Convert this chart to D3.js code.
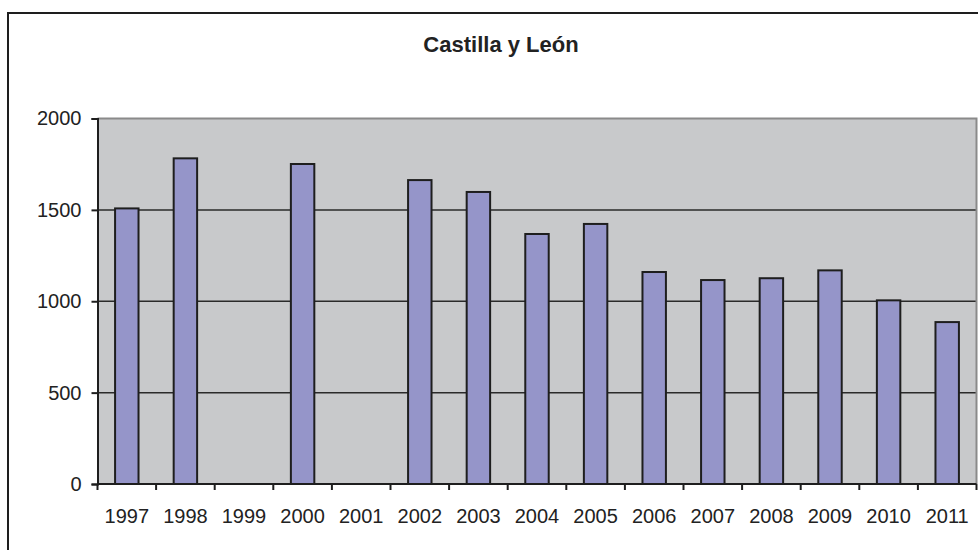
<!DOCTYPE html>
<html>
<head>
<meta charset="utf-8">
<script src="https://cdn.jsdelivr.net/npm/d3@7"></script>
<style>
  html, body { margin: 0; padding: 0; background: #fff; }
  svg { display: block; font-family: "Liberation Sans", Arial, sans-serif; }
</style>
</head>
<body>
<svg id="chart" width="978" height="550"></svg>
<script>
// Yearly totals for Castilla y León (null = no data for that year)
const years = ["1997","1998","1999","2000","2001","2002","2003","2004","2005","2006","2007","2008","2009","2010","2011"];
const values = [1508, 1782, null, 1751, null, 1663, 1598, 1368, 1423, 1160, 1116, 1126, 1169, 1005, 886];
const yTicks = [0, 500, 1000, 1500, 2000];
const title = "Castilla y León";

const svg = d3.select("#chart");
const plot = { left: 97.5, right: 976.5, top: 118.5, bottom: 484 };

// Outer chart frame
svg.append("path")
  .attr("d", `M8,560 L8,13 L990,13`)
  .attr("fill", "none").attr("stroke", "#1e1e1e").attr("stroke-width", 2);

svg.append("text")
  .attr("x", 501).attr("y", 52)
  .attr("text-anchor", "middle")
  .attr("font-size", 22).attr("font-weight", "bold")
  .attr("fill", "#222")
  .text(title);

const x = d3.scaleBand().domain(years).range([plot.left, plot.right]).paddingInner(0.6).paddingOuter(0.3);
const xCat = d3.scaleBand().domain(years).range([plot.left, plot.right]);
const y = d3.scaleLinear().domain([0, 2000]).range([plot.bottom, plot.top]);

// Plot area background
svg.append("rect")
  .attr("x", plot.left).attr("y", plot.top)
  .attr("width", plot.right - plot.left).attr("height", plot.bottom - plot.top)
  .attr("fill", "#c8c9cb");

// Horizontal gridlines
svg.append("g").selectAll("line")
  .data(yTicks.filter(t => t > 0 && t < 2000))
  .join("line")
  .attr("x1", plot.left).attr("x2", plot.right)
  .attr("y1", d => y(d)).attr("y2", d => y(d))
  .attr("stroke", "#2a2a2a").attr("stroke-width", 1.5);

// Top and right edges of the plot area
svg.append("path")
  .attr("d", `M${plot.left},${plot.top} L${plot.right},${plot.top} L${plot.right},${plot.bottom}`)
  .attr("fill", "none").attr("stroke", "#8a8a8a").attr("stroke-width", 2);

// Bars
svg.append("g").selectAll("rect")
  .data(years.map((yr, i) => ({ yr, v: values[i] })).filter(d => d.v != null))
  .join("rect")
  .attr("x", d => x(d.yr))
  .attr("width", x.bandwidth())
  .attr("y", d => y(d.v))
  .attr("height", d => y(0) - y(d.v))
  .attr("fill", "#9595c9")
  .attr("stroke", "#1e1e1e").attr("stroke-width", 2);

// Y axis
const yAxis = svg.append("g")
  .attr("transform", `translate(${plot.left},0)`)
  .call(d3.axisLeft(y).tickValues(yTicks).tickSize(6).tickPadding(10).tickFormat(d3.format("d")));
yAxis.select(".domain").attr("stroke", "#1e1e1e").attr("stroke-width", 2);
yAxis.selectAll(".tick line").attr("stroke", "#1e1e1e").attr("stroke-width", 2);
yAxis.selectAll(".tick text").attr("font-size", 20).attr("fill", "#222")
  .attr("font-family", "Liberation Sans, Arial, sans-serif");

// X axis: ticks sit on category boundaries, labels centred in categories
const xAxisG = svg.append("g");
xAxisG.append("line")
  .attr("x1", plot.left).attr("x2", plot.right)
  .attr("y1", plot.bottom).attr("y2", plot.bottom)
  .attr("stroke", "#1e1e1e").attr("stroke-width", 2);
const boundaries = years.map(yr => xCat(yr)).concat([plot.right]);
xAxisG.selectAll("line.tk")
  .data(boundaries)
  .join("line").attr("class", "tk")
  .attr("x1", d => d).attr("x2", d => d)
  .attr("y1", plot.bottom).attr("y2", plot.bottom + 6)
  .attr("stroke", "#1e1e1e").attr("stroke-width", 2);
xAxisG.selectAll("text")
  .data(years)
  .join("text")
  .attr("x", d => xCat(d) + xCat.bandwidth() / 2)
  .attr("y", 523)
  .attr("text-anchor", "middle")
  .attr("font-size", 20).attr("fill", "#222")
  .text(d => d);
</script>
</body>
</html>
